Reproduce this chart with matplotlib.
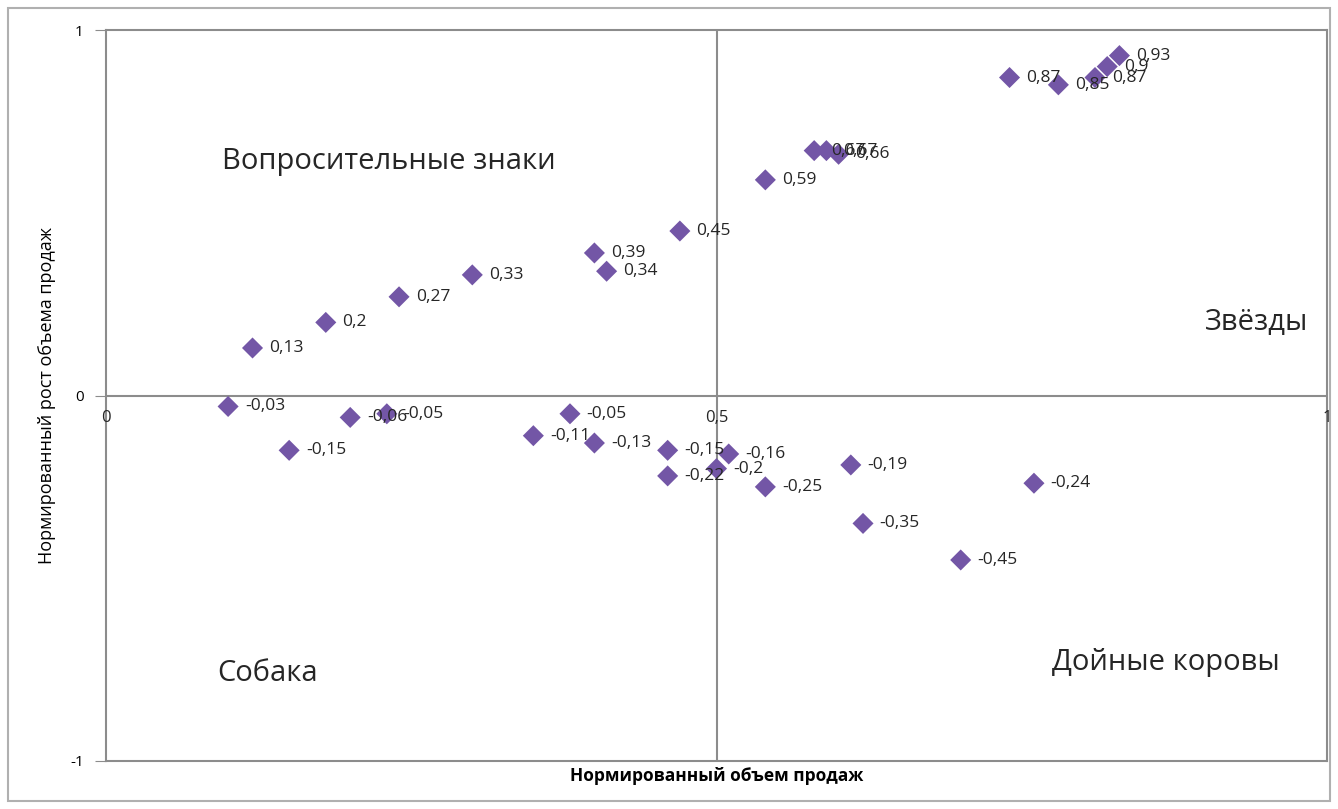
import matplotlib
matplotlib.use("Agg")
import matplotlib.pyplot as plt
from matplotlib.patches import Rectangle

plt.rcParams['font.family'] = ['Open Sans', 'DejaVu Sans']

# Normalized sales volume (x) and normalized sales growth (y)
sales_volume = [0.10, 0.12, 0.15, 0.18, 0.20, 0.23, 0.24, 0.30, 0.35, 0.38,
                0.40, 0.40, 0.41, 0.46, 0.46, 0.47, 0.50, 0.51, 0.54, 0.54,
                0.58, 0.59, 0.60, 0.61, 0.62, 0.70, 0.74, 0.76, 0.78, 0.81,
                0.82, 0.83]
sales_growth = [-0.03, 0.13, -0.15, 0.20, -0.06, -0.05, 0.27, 0.33, -0.11, -0.05,
                0.39, -0.13, 0.34, -0.15, -0.22, 0.45, -0.20, -0.16, 0.59, -0.25,
                0.67, 0.67, 0.66, -0.19, -0.35, -0.45, 0.87, -0.24, 0.85, 0.87,
                0.90, 0.93]

quadrant_names = ["Вопросительные знаки", "Звёзды", "Собака", "Дойные коровы"]
x_ticks = [0, 0.5, 1]
x_tick_labels = ["0", "0,5", "1"]
y_ticks = [-1, 0, 1]
y_tick_labels = ["-1", "0", "1"]


def fmt(v):
    s = ("%.2f" % v).rstrip('0').rstrip('.')
    return s.replace('.', ',')


fig = plt.figure(figsize=(13.38, 8.09), dpi=100)
ax = fig.add_axes([106 / 1338, 1 - 761 / 809, (1327 - 106) / 1338, (761 - 30) / 809])
ax.set_xlim(0, 1)
ax.set_ylim(-1, 1)

for sp in ax.spines.values():
    sp.set_color('#8c8c8c')
    sp.set_linewidth(1.5)

ax.axhline(0, color='#8c8c8c', lw=1.5, zorder=1)
ax.axvline(0.5, color='#8c8c8c', lw=1.5, zorder=1)

ax.scatter(sales_volume, sales_growth, marker='D', s=115, color='#7356a6',
           edgecolors='none', zorder=3)

for x, y in zip(sales_volume, sales_growth):
    ax.annotate(fmt(y), (x, y), xytext=(12, 0), textcoords='offset points',
                ha='left', va='center', fontsize=12.5, color='#262626', zorder=4)

# Y axis ticks at left
ax.set_yticks(y_ticks)
ax.set_yticklabels(y_tick_labels, fontsize=11)
ax.tick_params(axis='y', direction='out', length=8, color='#8c8c8c', pad=8)
ax.set_xticks([])
for xv, lab in zip(x_ticks, x_tick_labels):
    ax.text(xv, -0.04, lab, ha='center', va='top', fontsize=12, color='#262626')

# Quadrant labels
ax.text(0.095, 0.64, quadrant_names[0], fontsize=21, ha='left', va='center', color='#262626')
ax.text(0.985, 0.20, quadrant_names[1], fontsize=21, ha='right', va='center', color='#262626')
ax.text(0.091, -0.76, quadrant_names[2], fontsize=21, ha='left', va='center', color='#262626')
ax.text(0.775, -0.73, quadrant_names[3], fontsize=21, ha='left', va='center', color='#262626')

ax.set_xlabel("Нормированный объем продаж", fontsize=12.5, fontweight='bold', labelpad=4)
ax.set_ylabel("Нормированный рост объема продаж", fontsize=13, labelpad=10)

# Outer chart border
fig.patches.append(Rectangle((8 / 1338, 1 - 801 / 809), 1322 / 1338, 793 / 809,
                             transform=fig.transFigure, fill=False,
                             edgecolor='#b0b0b0', lw=1.5))

fig.savefig("out.png", dpi=100)
